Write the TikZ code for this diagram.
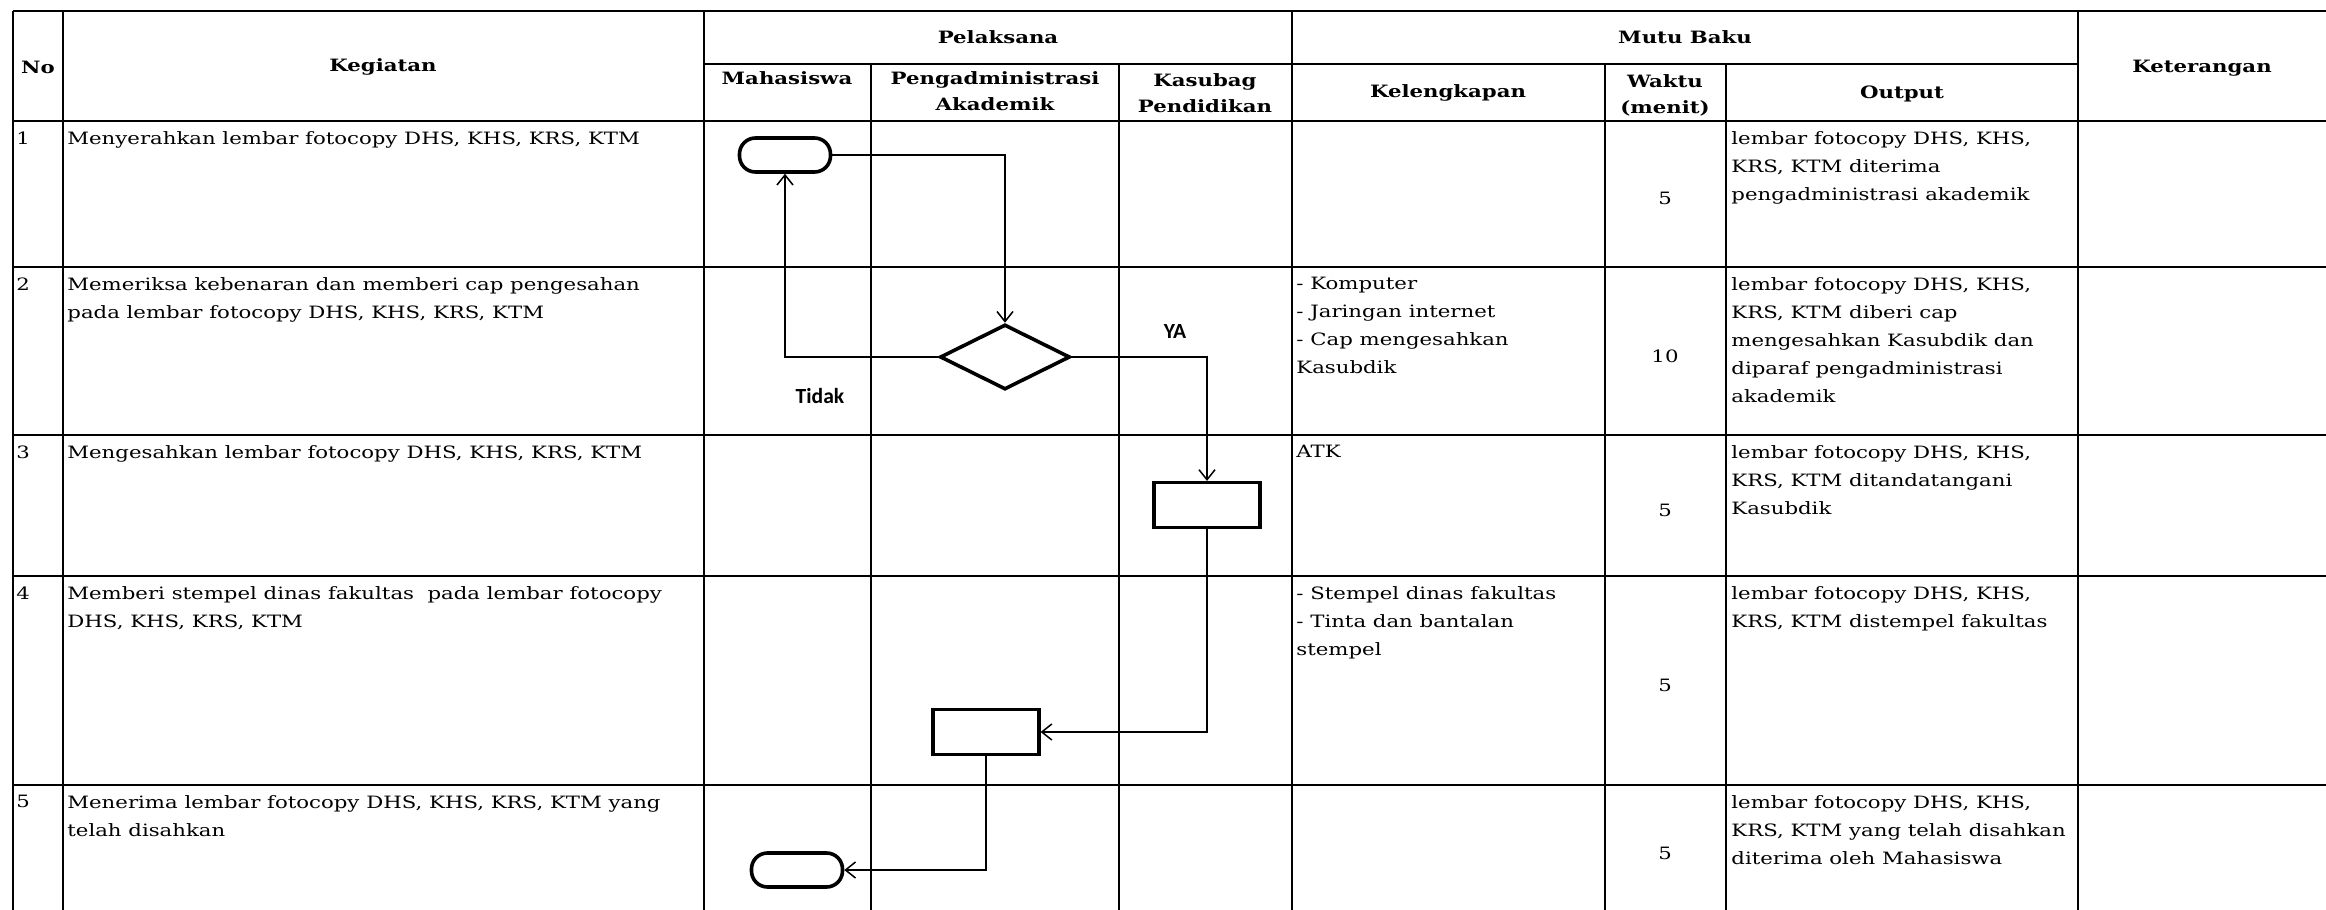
\documentclass[tikz,border=0pt]{standalone}
\usepackage{fontspec}
\setmainfont{DejaVu Serif}[FakeStretch=1.25]
\newfontfamily\lblfont{Carlito}
\usetikzlibrary{shapes.geometric,arrows.meta}
\begin{document}
\begin{tikzpicture}[x=0.5pt,y=-0.5pt,
  gridline/.style={line width=1.1pt},
  conn/.style={line width=0.75pt,-{Straight Barb[length=5pt,width=8pt]}},
  term/.style={draw,line width=1.8pt,rounded corners=8pt,minimum width=45.5pt,minimum height=17pt,inner sep=0pt},
  procbox/.style={draw,line width=1.6pt,minimum width=53pt,minimum height=22.5pt,inner sep=0pt},
  decision/.style={draw,diamond,line width=1.8pt,minimum width=65pt,minimum height=32.5pt,inner sep=0pt},
  body/.style={font=\fontsize{8.5}{14}\selectfont,align=left,inner sep=0pt,anchor=north west},
  num/.style={font=\fontsize{8.5}{14}\selectfont,inner sep=0pt},
  hdr/.style={font=\bfseries\fontsize{8.5}{13}\selectfont,align=center,inner sep=0pt},
  lbl/.style={font=\lblfont\bfseries\fontsize{10.8}{12}\selectfont,inner sep=0pt}]
\fill[white] (0,0) rectangle (2326,910);
\useasboundingbox (0,0) rectangle (2326,910);
% grid
\foreach \yy in {11,121,267,435,576,785} \draw[gridline] (13,\yy) -- (2326,\yy);
\draw[gridline] (704,64) -- (2078,64);
\foreach \xx in {13,63,704,1292,2078} \draw[gridline] (\xx,11) -- (\xx,910);
\foreach \xx in {871,1119,1605,1726} \draw[gridline] (\xx,64) -- (\xx,910);
% headers
\node[hdr] (hno) at (38,67) {No};
\node[hdr] (hkeg) at (383,67) {Kegiatan};
\node[hdr] (hpel) at (998,37) {Pelaksana};
\node[hdr] (hmutu) at (1685,37) {Mutu Baku};
\node[hdr] (hket) at (2202,68) {Keterangan};
\node[hdr] (hmhs) at (787,78) {Mahasiswa};
\node[hdr] (hpa) at (995,91) {Pengadministrasi\\Akademik};
\node[hdr] (hkas) at (1205,93) {Kasubag\\Pendidikan};
\node[hdr] (hkel) at (1448,93) {Kelengkapan};
\node[hdr] (hwak) at (1665,95) {Waktu\\(menit)};
\node[hdr] (hout) at (1902,94) {Output};
% numbers
\node[body] (n1) at (16,131) {1};
\node[body] (n2) at (16,277) {2};
\node[body] (n3) at (16,445) {3};
\node[body] (n4) at (16,586) {4};
\node[body] (n5) at (16,795) {5};
% kegiatan
\node[body] (k1) at (67,131) {Menyerahkan lembar fotocopy DHS, KHS, KRS, KTM};
\node[body] (k2) at (67,277) {Memeriksa kebenaran dan memberi cap pengesahan\\pada lembar fotocopy DHS, KHS, KRS, KTM};
\node[body] (k3) at (67,445) {Mengesahkan lembar fotocopy DHS, KHS, KRS, KTM};
\node[body] (k4) at (67,586) {Memberi stempel dinas fakultas \ pada lembar fotocopy\\DHS, KHS, KRS, KTM};
\node[body] (k5) at (67,795) {Menerima lembar fotocopy DHS, KHS, KRS, KTM yang\\telah disahkan};
% kelengkapan
\node[body] (l2) at (1296,277) {- Komputer\\- Jaringan internet\\- Cap mengesahkan\\Kasubdik};
\node[body] (l3) at (1296,445) {ATK};
\node[body] (l4) at (1296,586) {- Stempel dinas fakultas\\- Tinta dan bantalan\\stempel};
% waktu
\node[num] (w1) at (1665,198) {5};
\node[num] (w2) at (1665,356) {10};
\node[num] (w3) at (1665,510) {5};
\node[num] (w4) at (1665,685) {5};
\node[num] (w5) at (1665,853) {5};
% output
\node[body] (o1) at (1731,131) {lembar fotocopy DHS, KHS,\\KRS, KTM diterima\\pengadministrasi akademik};
\node[body] (o2) at (1731,277) {lembar fotocopy DHS, KHS,\\KRS, KTM diberi cap\\mengesahkan Kasubdik dan\\diparaf pengadministrasi\\akademik};
\node[body] (o3) at (1731,445) {lembar fotocopy DHS, KHS,\\KRS, KTM ditandatangani\\Kasubdik};
\node[body] (o4) at (1731,586) {lembar fotocopy DHS, KHS,\\KRS, KTM distempel fakultas};
\node[body] (o5) at (1731,795) {lembar fotocopy DHS, KHS,\\KRS, KTM yang telah disahkan\\diterima oleh Mahasiswa};
% flowchart
\node[term] (t1) at (785,155) {};
\node[decision] (dia) at (1005,357) {};
\node[procbox] (r3) at (1207,505) {};
\node[procbox] (r4) at (986,732) {};
\node[term] (t2) at (797,870) {};
\node[lbl] (ya) at (1175,331) {YA};
\node[lbl] (tidak) at (820,396) {Tidak};
\draw[conn] (t1.east) -| (dia.north);
\draw[conn] (dia.west) -| (t1.south);
\draw[conn] (dia.east) -| (r3.north);
\draw[conn] (r3.south) |- (r4.east);
\draw[conn] (r4.south) |- (t2.east);
\end{tikzpicture}
\end{document}
